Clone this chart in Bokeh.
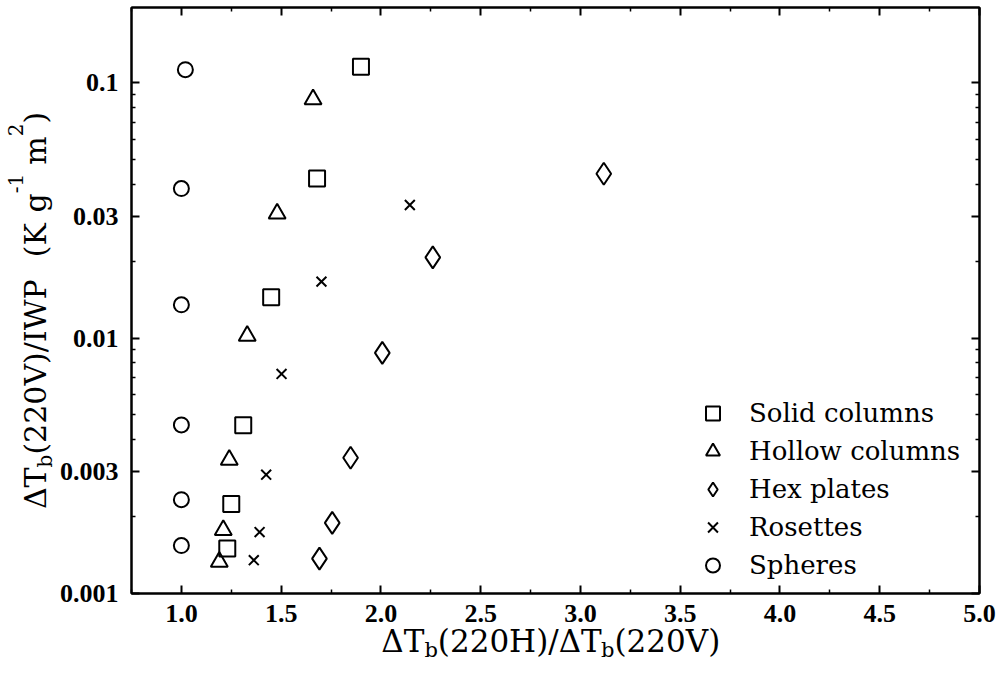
import math
from bokeh.plotting import figure
from bokeh.models import (Range1d, FixedTicker, NumeralTickFormatter, LinearAxis, LogAxis,
                          Legend, LegendItem, ColumnDataSource)
from bokeh.core.properties import value
from bokeh.embed import file_html
from bokeh.resources import INLINE

# ---------------- data ----------------
solid_x = [1.90, 1.68, 1.45, 1.31, 1.25, 1.23]
solid_y = [0.1156, 0.0422, 0.01445, 0.00456, 0.00224, 0.00150]
hollow_x = [1.66, 1.48, 1.33, 1.24, 1.21, 1.19]
hollow_y = [0.0860, 0.0307, 0.0102, 0.00334, 0.00177, 0.00133]
hex_x = [3.117, 2.26, 2.007, 1.848, 1.756, 1.692]
hex_y = [0.0440, 0.0207, 0.00875, 0.00340, 0.00189, 0.00137]
ros_x = [2.145, 1.702, 1.502, 1.425, 1.392, 1.363]
ros_y = [0.0332, 0.01664, 0.00724, 0.00292, 0.00174, 0.00135]
sph_x = [1.02, 1.0, 1.0, 1.0, 1.0, 1.0]
sph_y = [0.1125, 0.0385, 0.0135, 0.00457, 0.00233, 0.00154]

series_names = ["Solid columns", "Hollow columns", "Hex plates", "Rosettes", "Spheres"]

x_ticks = [1.0, 1.5, 2.0, 2.5, 3.0, 3.5, 4.0, 4.5, 5.0]
x_minor = [0.75, 1.25, 1.75, 2.25, 2.75, 3.25, 3.75, 4.25, 4.75]
y_ticks = [0.001, 0.003, 0.01, 0.03, 0.1]
y_minor = [0.002, 0.004, 0.005, 0.006, 0.007, 0.008, 0.009,
           0.02, 0.04, 0.05, 0.06, 0.07, 0.08, 0.09, 0.2]

X_MIN, X_MAX = 0.75, 5.0
Y_MIN, Y_MAX = 0.001, 0.197

# ---------------- layout ----------------
W, H = 1001, 673
FL, FR, FT, FB = 131, 979, 7, 593

p = figure(width=W, height=H, y_axis_type="log",
           x_range=Range1d(X_MIN, X_MAX), y_range=Range1d(Y_MIN, Y_MAX),
           output_backend="svg", toolbar_location=None,
           min_border_left=FL, min_border_right=W - FR,
           min_border_top=FT, min_border_bottom=H - FB)
p.xgrid.visible = False
p.ygrid.visible = False
p.outline_line_color = "black"
p.outline_line_width = 2
p.background_fill_color = "white"
p.border_fill_color = "white"

def style_axis(ax, show_labels=True):
    ax.major_tick_in = 8
    ax.major_tick_out = 0
    ax.minor_tick_in = 4
    ax.minor_tick_out = 0
    ax.major_tick_line_width = 2
    ax.minor_tick_line_width = 1.5
    ax.major_tick_line_color = "black"
    ax.minor_tick_line_color = "black"
    ax.axis_line_width = 2
    ax.axis_line_color = "black"
    ax.axis_label = None
    if show_labels:
        ax.major_label_text_font = "Liberation Serif"
        ax.major_label_text_font_style = "bold"
        ax.major_label_text_font_size = "26px"
        ax.major_label_text_color = "black"
    else:
        ax.major_label_text_font_size = "1px"
        ax.major_label_text_color = None
        ax.major_label_standoff = 0

p.xaxis.ticker = FixedTicker(ticks=x_ticks, minor_ticks=x_minor)
p.xaxis.formatter = NumeralTickFormatter(format="0.0")
p.yaxis.ticker = FixedTicker(ticks=y_ticks, minor_ticks=y_minor)
p.yaxis.formatter = NumeralTickFormatter(format="0.[000]")
for ax in p.xaxis:
    style_axis(ax)
    ax.major_label_standoff = 11
for ax in p.yaxis:
    style_axis(ax)
    ax.major_label_standoff = 13

top = LinearAxis(ticker=FixedTicker(ticks=x_ticks, minor_ticks=x_minor))
style_axis(top, show_labels=False)
p.add_layout(top, "above")
right = LogAxis(ticker=FixedTicker(ticks=y_ticks, minor_ticks=y_minor))
style_axis(right, show_labels=False)
p.add_layout(right, "right")

# ---------------- markers ----------------
kw = dict(line_color="black", line_width=2, fill_color=None)
r_solid = p.scatter(solid_x, solid_y, marker="square", size=16, **kw)
r_hollow = p.scatter(hollow_x, hollow_y, marker="triangle", size=17, **kw)
r_hex = p.scatter(hex_x, hex_y, marker="diamond", size=22, **kw)
r_ros = p.scatter(ros_x, ros_y, marker="x", size=14, **kw)
r_sph = p.scatter(sph_x, sph_y, marker="circle", size=15, **kw)

legend = Legend(items=[LegendItem(label=n, renderers=[r]) for n, r in
                       zip(series_names, [r_solid, r_hollow, r_hex, r_ros, r_sph])],
                location=(564, 9), orientation="vertical",
                label_text_font="DejaVu Serif", label_text_font_size="26px",
                label_text_color="black",
                glyph_width=35, glyph_height=38, label_height=38, spacing=0,
                padding=0, margin=0, label_standoff=19,
                border_line_color=None, background_fill_alpha=0)
p.add_layout(legend)

# ---------------- axis titles (with sub/superscripts) ----------------
WID = {'Δ': 0.72, 'T': 0.671, 'b': 0.640, '(': 0.390, ')': 0.390, '2': 0.636, '0': 0.636,
       '1': 0.636, 'H': 0.85, 'V': 0.77, '/': 0.337, 'I': 0.43, 'W': 1.03, 'P': 0.69,
       ' ': 0.318, 'K': 0.77, 'g': 0.64, '-': 0.338, 'm': 0.948}
FONT = "DejaVu Serif"

def text_w(s, size):
    return sum(WID.get(c, 0.6) for c in s) * size

def build(pieces, center, base, vertical):
    """pieces: (text, font px, baseline shift up px); text '' = blank advance of `size` px."""
    def adv(t, s):
        return s if t == "" else text_w(t, s)
    total = sum(adv(t, s) for t, s, _ in pieces)
    cols = dict(x=[], y=[], text=[], xo=[], yo=[], fs=[])
    pos = center - total / 2 if not vertical else center + total / 2
    for t, s, shift in pieces:
        if t != "":
            cols["x"].append(X_MIN)
            cols["y"].append(Y_MIN)
            cols["text"].append(t)
            cols["fs"].append(f"{s}px")
            if vertical:
                cols["xo"].append(base - shift - FL)
                cols["yo"].append(pos - FB)
            else:
                cols["xo"].append(pos - FL)
                cols["yo"].append(base - shift - FB)
        pos = pos - adv(t, s) if vertical else pos + adv(t, s)
    return ColumnDataSource(cols)

XB, XS = 31, 21
xsrc = build([("ΔT", XB, 0), ("b", XS, -9), ("(220H)/ΔT", XB, 0), ("b", XS, -9),
              ("(220V)", XB, 0)], center=551, base=640, vertical=False)
YB, YS = 30, 20
ysrc = build([("ΔT", YB, 0), ("b", YS, -9), ("(220V)/IWP", YB, 0), ("", 19, 0),
              ("(K", YB, 0), ("", 10, 0), ("g", YB, 0), ("-1", YS, 20), ("", 9, 0),
              ("m", YB, 0), ("2", YS, 20), (")", YB, 0)],
             center=310, base=35, vertical=True)

tkw = dict(text_font=value(FONT), text_font_size="fs", text_color="black",
           text_align="left", text_baseline="alphabetic", level="overlay")
p.text(x="x", y="y", text="text", x_offset="xo", y_offset="yo", source=xsrc, **tkw)
p.text(x="x", y="y", text="text", x_offset="xo", y_offset="yo", source=ysrc,
       angle=math.pi / 2, **tkw)

open("out.html", "w").write(file_html(p, INLINE))
